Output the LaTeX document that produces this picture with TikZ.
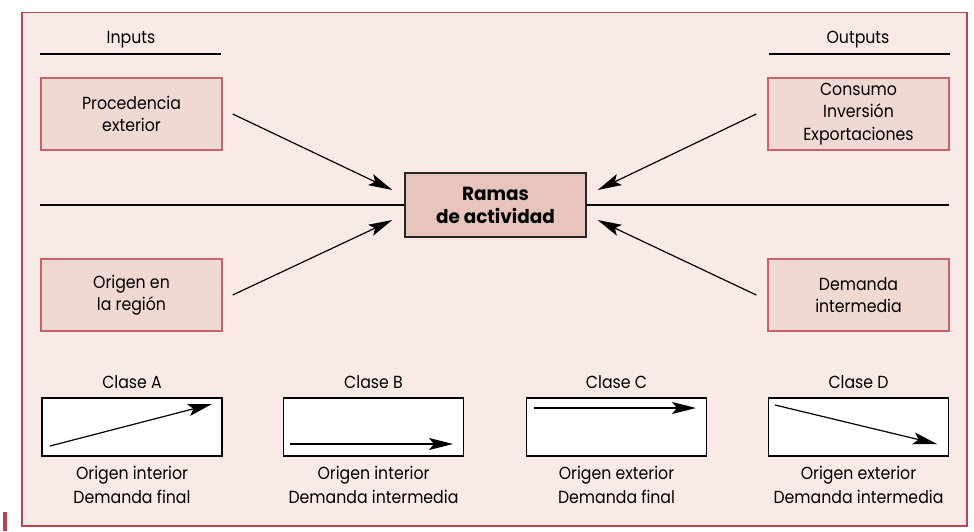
\documentclass[tikz,border=0pt]{standalone}
\usepackage{fontspec}
\setmainfont{Poppins}[FakeStretch=0.9,BoldFeatures={FakeStretch=0.97}]
\usetikzlibrary{arrows.meta,calc}
\definecolor{framered}{HTML}{B8454F}
\definecolor{bgpink}{HTML}{F9EAE7}
\definecolor{boxpink}{HTML}{F0D8D3}
\definecolor{boxred}{HTML}{C4636C}
\definecolor{ramafill}{HTML}{E7C4BC}

\begin{document}
\begin{tikzpicture}[x=1pt,y=-1pt,font=\fontsize{17.5}{22.5}\selectfont]
\tikzstyle{sidebox}=[draw=boxred,fill=boxpink,line width=1.5pt,minimum width=181pt,minimum height=72pt,inner sep=0pt,align=center]
\tikzstyle{clasebox}=[draw=black,fill=white,line width=1.2pt,minimum width=180pt,minimum height=58pt,inner sep=0pt]
\tikzstyle{flow}=[line width=1.2pt,-{Stealth[length=24pt,width=12pt,inset=5pt]}]
\useasboundingbox (0,0) rectangle (974,531);
% frame
\fill[framered] (3,512) rectangle (7,531);
\draw[framered,fill=bgpink,line width=1.6pt] (22,12.5) rectangle (967,526);
% headers
\node (inputs) at (131,40) {Inputs};
\node (outputs) at (858,40) {Outputs};
\draw[line width=1.2pt] (40,54) -- (221,54);
\draw[line width=1.2pt] (769,54) -- (950,54);
% side boxes
\foreach \name/\point/\txt in {
	proc/{131.5,114}/{Procedencia\\exterior},
	orig/{131.5,295}/{Origen en\\la región},
	cons/{858.5,114}/{Consumo\\Inversión\\Exportaciones},
	dem/{858.5,295}/{Demanda\\intermedia}}
	\node[sidebox] (\name) at (\point) {\txt};
% centre
\node[draw=black!85,fill=ramafill,line width=1.3pt,minimum width=181pt,minimum height=64pt,inner sep=0pt,align=center,font=\fontsize{19}{23}\selectfont\bfseries] (ramas) at (495.5,205) {Ramas\\de actividad};
\coordinate (left) at (40,205);
\coordinate (right) at (949,205);
\draw[line width=1.2pt] (left) -- (ramas.west);
\draw[line width=1.2pt] (ramas.east) -- (right);
\draw[flow] ([xshift=10pt]proc.east) -- ([xshift=-12pt,yshift=15pt]ramas.west);
\draw[flow] ([xshift=10pt]orig.east) -- ([xshift=-12pt,yshift=-15pt]ramas.west);
\draw[flow] ([xshift=-11pt]cons.west) -- ([xshift=11pt,yshift=15pt]ramas.east);
\draw[flow] ([xshift=-11pt]dem.west) -- ([xshift=11pt,yshift=-15pt]ramas.east);
% classes
\foreach \name/\x/\desc/\from/\to in {
	A/132/{Origen interior\\Demanda final}/{-82,19}/{80,-23},
	B/373.5/{Origen interior\\Demanda intermedia}/{-83.5,17}/{79.5,17},
	C/616.5/{Origen exterior\\Demanda final}/{-82.5,-19}/{79.5,-19},
	D/858.5/{Origen exterior\\Demanda intermedia}/{-83.5,-22}/{78.5,17}}
{
	\node[clasebox] (clase\name) at (\x,427) {};
	\node (titulo\name) at (\x,382) {Clase \name};
	\node[align=center,font=\fontsize{17.5}{24}\selectfont] (desc\name) at (\x,485) {\desc};
	\draw[flow] ($(clase\name)+(\from)$) -- ($(clase\name)+(\to)$);
}
\end{tikzpicture}
\end{document}
